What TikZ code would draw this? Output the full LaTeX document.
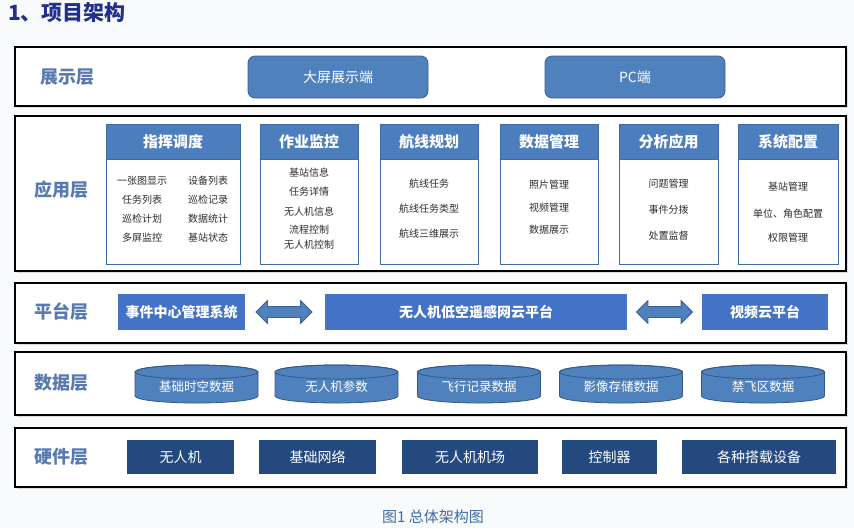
\documentclass[tikz,border=0pt]{standalone}
\usepackage{fontspec}
\setmainfont{Noto Sans CJK SC}
\usetikzlibrary{shapes.arrows,shadows}
\definecolor{titleblue}{RGB}{32,48,140}
\definecolor{lblue}{RGB}{88,122,176}
\definecolor{dispblue}{RGB}{79,129,189}
\definecolor{dispborder}{RGB}{58,96,150}
\definecolor{headblue}{RGB}{76,126,190}
\definecolor{headborder}{RGB}{62,106,166}
\definecolor{platblue}{RGB}{68,114,196}
\definecolor{cylblue}{RGB}{79,129,189}
\definecolor{cylborder}{RGB}{52,88,140}
\definecolor{hwblue}{RGB}{36,73,126}
\definecolor{capblue}{RGB}{64,108,164}
\definecolor{itemgray}{RGB}{45,45,45}
\definecolor{bggray}{RGB}{249,250,251}
\newcommand\mycyl[2]{%
  \path[cylpath] (#1-61.5,#2-12) -- (#1-61.5,#2+12)
    arc[start angle=180,end angle=0,x radius=61.5,y radius=7]
    -- (#1+61.5,#2-12) arc[start angle=0,end angle=-180,x radius=61.5,y radius=7] -- cycle;
  \draw[cylborder,line width=0.8pt] (#1,#2-12) ellipse[x radius=61.5,y radius=7];
}
\begin{document}
\begin{tikzpicture}[x=1pt,y=-1pt,
  layerframe/.style={draw=black,line width=1.1pt,fill=white,inner sep=0pt,
    drop shadow={shadow xshift=1.5pt,shadow yshift=-1.5pt,opacity=0.25}},
  layerlabel/.style={font=\fontsize{18}{20}\selectfont\bfseries,text=lblue},
  dispbox/.style={draw=dispborder,line width=0.8pt,fill=dispblue,rounded corners=7pt,
    minimum width=180,minimum height=42,text=white,font=\fontsize{14}{16}\selectfont},
  modhead/.style={draw=headborder,line width=0.8pt,fill=headblue,text=white,
    minimum height=35,font=\fontsize{15}{17}\selectfont\bfseries},
  modbody/.style={draw=headborder,line width=0.8pt,fill=white,minimum height=105},
  item/.style={text=itemgray,font=\fontsize{10}{12}\selectfont,inner sep=1pt},
  platbox/.style={fill=platblue,text=white,minimum height=36,
    font=\fontsize{14}{16}\selectfont\bfseries},
  dblarrow/.style={double arrow,draw=dispborder,line width=0.8pt,fill=dispblue,
    minimum height=56,double arrow head extend=6pt,inner sep=5pt},
  cylpath/.style={fill=cylblue,draw=cylborder,line width=0.8pt},
  cyltext/.style={text=white,font=\fontsize{12.5}{14}\selectfont},
  hwbox/.style={fill=hwblue,text=white,minimum height=34,
    font=\fontsize{14}{16}\selectfont}]
\useasboundingbox (0,0) rectangle (854,528);
\fill[bggray] (0,0) rectangle (854,528);

% title
\node[anchor=west,text=titleblue,font=\fontsize{21}{23}\selectfont\bfseries,inner sep=0pt] (title) at (8,13) {1、项目架构};

% layer frames
\node[layerframe,minimum width=831,minimum height=59] (L1) at (430.5,76.5) {};
\node[layerframe,minimum width=831,minimum height=155] (L2) at (430.5,193.5) {};
\node[layerframe,minimum width=831,minimum height=60] (L3) at (430.5,313) {};
\node[layerframe,minimum width=831,minimum height=63] (L4) at (430.5,383.5) {};
\node[layerframe,minimum width=831,minimum height=59] (L5) at (430.5,457.5) {};

% layer labels
\node[layerlabel] (l1) at (67,77) {展示层};
\node[layerlabel] (l2) at (61,190) {应用层};
\node[layerlabel] (l3) at (61,312) {平台层};
\node[layerlabel] (l4) at (61,383) {数据层};
\node[layerlabel] (l5) at (61,457) {硬件层};

% display layer
\node[dispbox] (big) at (338,77) {大屏展示端};
\node[dispbox] (pc) at (635,77) {PC端};

% application modules
\node[modbody,minimum width=134] (m1b) at (173,211.5) {};
\node[modhead,minimum width=134] (m1h) at (173,141.5) {指挥调度};
\node[modbody,minimum width=98] (m2b) at (309,211.5) {};
\node[modhead,minimum width=98] (m2h) at (309,141.5) {作业监控};
\node[modbody,minimum width=98] (m3b) at (429,211.5) {};
\node[modhead,minimum width=98] (m3h) at (429,141.5) {航线规划};
\node[modbody,minimum width=98] (m4b) at (549,211.5) {};
\node[modhead,minimum width=98] (m4h) at (549,141.5) {数据管理};
\node[modbody,minimum width=99] (m5b) at (668.5,211.5) {};
\node[modhead,minimum width=99] (m5h) at (668.5,141.5) {分析应用};
\node[modbody,minimum width=100] (m6b) at (788,211.5) {};
\node[modhead,minimum width=100] (m6h) at (788,141.5) {系统配置};

% items module 1
\node[item] (i11) at (142,181) {一张图显示};
\node[item] (i12) at (142,200) {任务列表};
\node[item] (i13) at (142,219) {巡检计划};
\node[item] (i14) at (142,238) {多屏监控};
\node[item] (i15) at (208,181) {设备列表};
\node[item] (i16) at (208,200) {巡检记录};
\node[item] (i17) at (208,219) {数据统计};
\node[item] (i18) at (208,238) {基站状态};
% module 2
\node[item] (i21) at (309,173) {基站信息};
\node[item] (i22) at (309,192) {任务详情};
\node[item] (i23) at (309,212) {无人机信息};
\node[item] (i24) at (309,230) {流程控制};
\node[item] (i25) at (309,245) {无人机控制};
% module 3
\node[item] (i31) at (429,184) {航线任务};
\node[item] (i32) at (429,209) {航线任务类型};
\node[item] (i33) at (429,234) {航线三维展示};
% module 4
\node[item] (i41) at (549,185) {照片管理};
\node[item] (i42) at (549,208) {视频管理};
\node[item] (i43) at (549,230) {数据展示};
% module 5
\node[item] (i51) at (668.5,184) {问题管理};
\node[item] (i52) at (668.5,210) {事件分拨};
\node[item] (i53) at (668.5,236) {处置监督};
% module 6
\node[item] (i61) at (788,187) {基站管理};
\node[item] (i62) at (788,214) {单位、角色配置};
\node[item] (i63) at (788,238) {权限管理};

% platform layer
\node[platbox,minimum width=127] (p1) at (181.5,312) {事件中心管理系统};
\node[platbox,minimum width=302] (p2) at (476,312) {无人机低空遥感网云平台};
\node[platbox,minimum width=126] (p3) at (765,312) {视频云平台};
\node[dblarrow] (a1) at (284,312) {};
\node[dblarrow] (a2) at (664.5,312) {};

% data layer
\mycyl{196.5}{384}
\node[cyltext] (d1) at (196.5,387) {基础时空数据};
\mycyl{336.5}{384}
\node[cyltext] (d2) at (336.5,387) {无人机参数};
\mycyl{479}{384}
\node[cyltext] (d3) at (479,387) {飞行记录数据};
\mycyl{621}{384}
\node[cyltext] (d4) at (621,387) {影像存储数据};
\mycyl{763}{384}
\node[cyltext] (d5) at (763,387) {禁飞区数据};

% hardware layer
\node[hwbox,minimum width=107] (h1) at (180.5,457) {无人机};
\node[hwbox,minimum width=117] (h2) at (317.5,457) {基础网络};
\node[hwbox,minimum width=136] (h3) at (470,457) {无人机机场};
\node[hwbox,minimum width=95] (h4) at (609.5,457) {控制器};
\node[hwbox,minimum width=154] (h5) at (759,457) {各种搭载设备};

% caption
\node[text=capblue,font=\fontsize{15}{17}\selectfont] (cap) at (433,517) {图1 总体架构图};
\end{tikzpicture}
\end{document}
